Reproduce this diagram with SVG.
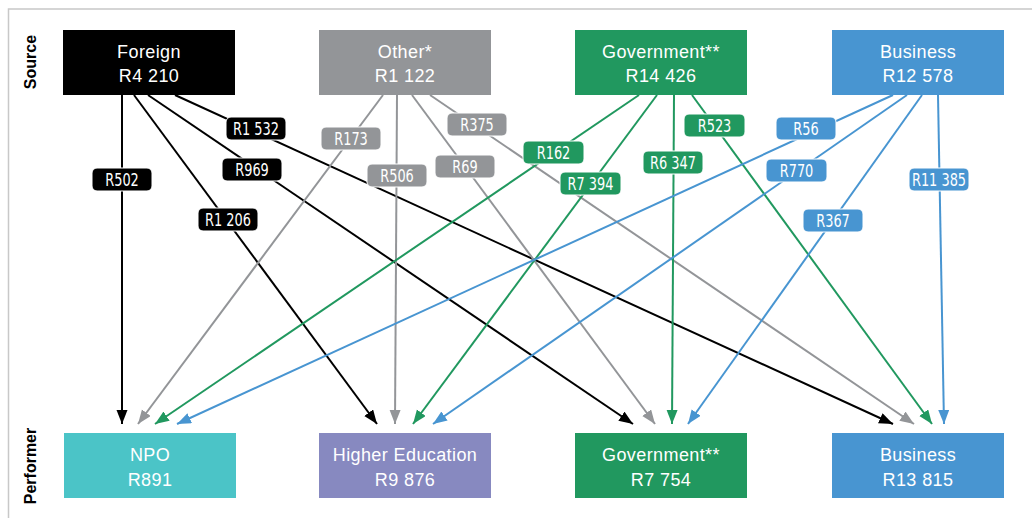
<svg xmlns="http://www.w3.org/2000/svg" width="1032" height="518" viewBox="0 0 1032 518">
<style>
.node-t{font-family:"Liberation Sans",Arial,sans-serif;font-size:18px;fill:#fff;text-anchor:middle;letter-spacing:0.4px}
.axis{font-family:"Liberation Sans",Arial,sans-serif;font-size:16px;font-weight:bold;fill:#000;text-anchor:middle}
.lbl rect{stroke:#fff;stroke-width:1}
.lbl text{font-family:"Liberation Sans Narrow","DejaVu Sans Condensed",sans-serif;font-size:17.5px;fill:#fff;text-anchor:middle}
.e{fill:none;stroke-width:2}
.k{stroke:#000}.g{stroke:#939598}.gr{stroke:#21985f}.b{stroke:#4895d1}
.fk{fill:#000}.fg{fill:#939598}.fgr{fill:#21985f}.fb{fill:#4895d1}
</style>
<defs>
<marker id="ak" markerUnits="userSpaceOnUse" markerWidth="15" markerHeight="12" refX="14" refY="5.5" orient="auto"><path d="M0,0 L14,5.5 L0,11 z" fill="#000"/></marker>
<marker id="ag" markerUnits="userSpaceOnUse" markerWidth="15" markerHeight="12" refX="14" refY="5.5" orient="auto"><path d="M0,0 L14,5.5 L0,11 z" fill="#939598"/></marker>
<marker id="agr" markerUnits="userSpaceOnUse" markerWidth="15" markerHeight="12" refX="14" refY="5.5" orient="auto"><path d="M0,0 L14,5.5 L0,11 z" fill="#21985f"/></marker>
<marker id="ab" markerUnits="userSpaceOnUse" markerWidth="15" markerHeight="12" refX="14" refY="5.5" orient="auto"><path d="M0,0 L14,5.5 L0,11 z" fill="#4895d1"/></marker>
</defs>
<rect width="1032" height="518" fill="#fff"/>
<path d="M8.5,518 V9 H1032" fill="none" stroke="#c8c8c8" stroke-width="1.5"/>
<text class="axis" transform="translate(36,62) rotate(-90)">Source</text>
<text class="axis" transform="translate(36,466) rotate(-90)">Performer</text>

<g id="connectors">
<line class="e k" x1="122" y1="95" x2="122" y2="424" marker-end="url(#ak)"/>
<line class="e k" x1="134" y1="95" x2="377" y2="424" marker-end="url(#ak)"/>
<line class="e k" x1="148" y1="95" x2="633" y2="424" marker-end="url(#ak)"/>
<line class="e k" x1="175" y1="95" x2="893" y2="424" marker-end="url(#ak)"/>
<line class="e g" x1="383" y1="95" x2="138" y2="424" marker-end="url(#ag)"/>
<line class="e g" x1="397" y1="95" x2="395" y2="424" marker-end="url(#ag)"/>
<line class="e g" x1="412" y1="95" x2="655" y2="424" marker-end="url(#ag)"/>
<line class="e g" x1="430" y1="95" x2="914" y2="424" marker-end="url(#ag)"/>
<line class="e gr" x1="639" y1="95" x2="155" y2="424" marker-end="url(#agr)"/>
<line class="e gr" x1="657" y1="95" x2="413" y2="424" marker-end="url(#agr)"/>
<line class="e gr" x1="674" y1="95" x2="672" y2="424" marker-end="url(#agr)"/>
<line class="e gr" x1="692" y1="95" x2="932" y2="424" marker-end="url(#agr)"/>
<line class="e b" x1="893" y1="95" x2="177" y2="424" marker-end="url(#ab)"/>
<line class="e b" x1="907" y1="95" x2="433" y2="424" marker-end="url(#ab)"/>
<line class="e b" x1="922" y1="95" x2="688" y2="424" marker-end="url(#ab)"/>
<line class="e b" x1="938" y1="95" x2="944" y2="424" marker-end="url(#ab)"/>
</g>

<g id="edge-labels">
<g class="lbl"><rect class="fk" x="92" y="168" width="60" height="23" rx="5"/><text transform="translate(122,186) scale(0.82,1)">R502</text></g>
<g class="lbl"><rect class="fk" x="198" y="208" width="60" height="23" rx="5"/><text transform="translate(228,226) scale(0.82,1)">R1 206</text></g>
<g class="lbl"><rect class="fk" x="222" y="158" width="60" height="23" rx="5"/><text transform="translate(252,176) scale(0.82,1)">R969</text></g>
<g class="lbl"><rect class="fk" x="226" y="117" width="60" height="23" rx="5"/><text transform="translate(256,135) scale(0.82,1)">R1 532</text></g>
<g class="lbl"><rect class="fg" x="321" y="127" width="60" height="23" rx="5"/><text transform="translate(351,145) scale(0.82,1)">R173</text></g>
<g class="lbl"><rect class="fg" x="367" y="164" width="60" height="23" rx="5"/><text transform="translate(397,182) scale(0.82,1)">R506</text></g>
<g class="lbl"><rect class="fg" x="435" y="155" width="60" height="23" rx="5"/><text transform="translate(465,173) scale(0.82,1)">R69</text></g>
<g class="lbl"><rect class="fg" x="447" y="113" width="60" height="23" rx="5"/><text transform="translate(477,131) scale(0.82,1)">R375</text></g>
<g class="lbl"><rect class="fgr" x="523" y="141" width="61" height="23" rx="5"/><text transform="translate(553.5,159) scale(0.82,1)">R162</text></g>
<g class="lbl"><rect class="fgr" x="560" y="172" width="61" height="23" rx="5"/><text transform="translate(590.5,190) scale(0.82,1)">R7 394</text></g>
<g class="lbl"><rect class="fgr" x="643" y="151" width="60" height="23" rx="5"/><text transform="translate(673,169) scale(0.82,1)">R6 347</text></g>
<g class="lbl"><rect class="fgr" x="684" y="114" width="61" height="23" rx="5"/><text transform="translate(714.5,132) scale(0.82,1)">R523</text></g>
<g class="lbl"><rect class="fb" x="776" y="117" width="60" height="23" rx="5"/><text transform="translate(806,135) scale(0.82,1)">R56</text></g>
<g class="lbl"><rect class="fb" x="766" y="159" width="61" height="23" rx="5"/><text transform="translate(796.5,177) scale(0.82,1)">R770</text></g>
<g class="lbl"><rect class="fb" x="803" y="209" width="60" height="23" rx="5"/><text transform="translate(833,227) scale(0.82,1)">R367</text></g>
<g class="lbl"><rect class="fb" x="909" y="168" width="60" height="23" rx="5"/><text transform="translate(939,186) scale(0.82,1)">R11 385</text></g>
</g>

<g id="src-foreign"><rect x="63" y="30" width="172" height="65" fill="#000"/><text class="node-t" x="149" y="58">Foreign</text><text class="node-t" x="149" y="82">R4 210</text></g>
<g id="src-other"><rect x="319" y="30" width="172" height="65" fill="#939598"/><text class="node-t" x="405" y="58">Other*</text><text class="node-t" x="405" y="82">R1 122</text></g>
<g id="src-government"><rect x="575" y="30" width="172" height="65" fill="#21985f"/><text class="node-t" x="661" y="58">Government**</text><text class="node-t" x="661" y="82">R14 426</text></g>
<g id="src-business"><rect x="832" y="30" width="172" height="65" fill="#4895d1"/><text class="node-t" x="918" y="58">Business</text><text class="node-t" x="918" y="82">R12 578</text></g>

<g id="perf-npo"><rect x="64" y="433" width="172" height="65" fill="#4bc4c7"/><text class="node-t" x="150" y="461">NPO</text><text class="node-t" x="150" y="486">R891</text></g>
<g id="perf-higher-education"><rect x="319" y="433" width="172" height="65" fill="#8789c0"/><text class="node-t" x="405" y="461">Higher Education</text><text class="node-t" x="405" y="486">R9 876</text></g>
<g id="perf-government"><rect x="575" y="433" width="172" height="65" fill="#21985f"/><text class="node-t" x="661" y="461">Government**</text><text class="node-t" x="661" y="486">R7 754</text></g>
<g id="perf-business"><rect x="832" y="433" width="172" height="65" fill="#4895d1"/><text class="node-t" x="918" y="461">Business</text><text class="node-t" x="918" y="486">R13 815</text></g>
</svg>
